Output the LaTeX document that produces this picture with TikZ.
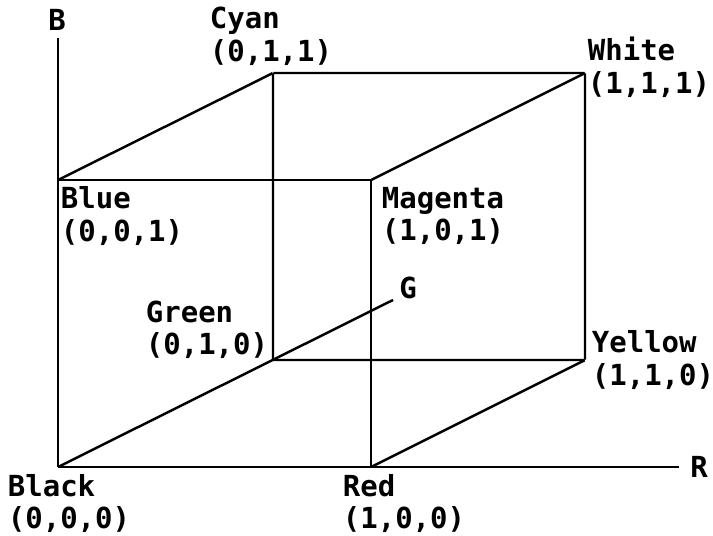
\documentclass[tikz,border=0pt]{standalone}
\usepackage{fontspec}
\newfontfamily\dosfont{DejaVu Sans Mono}
\tikzset{
  corner/.style={inner sep=0pt, minimum size=0pt},
  lbl/.style={font={\dosfont\bfseries\fontsize{16.5}{18.5}\selectfont}, align=left, inner sep=0pt},
  edge/.style={line width=1.4pt}
}
\begin{document}
\begin{tikzpicture}
\useasboundingbox (0,0) rectangle (14.26,10.7);
% corners of the cube and axis ends
\node[corner] (black) at (1.16,1.36) {};
\node[corner] (red) at (7.42,1.36) {};
\node[corner] (green) at (5.46,3.50) {};
\node[corner] (yellow) at (11.70,3.50) {};
\node[corner] (blue) at (1.16,7.10) {};
\node[corner] (magenta) at (7.42,7.10) {};
\node[corner] (cyan) at (5.46,9.24) {};
\node[corner] (white) at (11.70,9.24) {};
\coordinate (bend) at (1.16,9.94);
\coordinate (rend) at (13.58,1.36);
\coordinate (gend) at (7.86,4.70);
% axes
\draw[edge] (black) -- (bend);
\draw[edge] (black) -- (rend);
\draw[edge] (black) -- (gend);
% cube
\draw[edge] (blue) -- (magenta) -- (red);
\draw[edge] (blue) -- (cyan) -- (white) -- (yellow) -- (green) -- (cyan);
\draw[edge] (magenta) -- (white);
\draw[edge] (red) -- (yellow);
% labels
\node[lbl] (blabel) at (1.14,10.30) {B};
\node[lbl] (rlabel) at (13.98,1.36) {R};
\node[lbl] (glabel) at (8.16,4.94) {G};
\node[lbl] (blacklbl) at (1.38,0.63) {Black\\(0,0,0)};
\node[lbl] (redlbl) at (8.08,0.63) {Red\\(1,0,0)};
\node[lbl] (greenlbl) at (4.14,4.10) {Green\\(0,1,0)};
\node[lbl] (yellowlbl) at (13.06,3.50) {Yellow\\(1,1,0)};
\node[lbl] (bluelbl) at (2.44,6.38) {Blue\\(0,0,1)};
\node[lbl] (magentalbl) at (8.86,6.38) {Magenta\\(1,0,1)};
\node[lbl] (cyanlbl) at (5.42,9.97) {Cyan\\(0,1,1)};
\node[lbl] (whitelbl) at (12.98,9.35) {White\\(1,1,1)};
\end{tikzpicture}
\end{document}
